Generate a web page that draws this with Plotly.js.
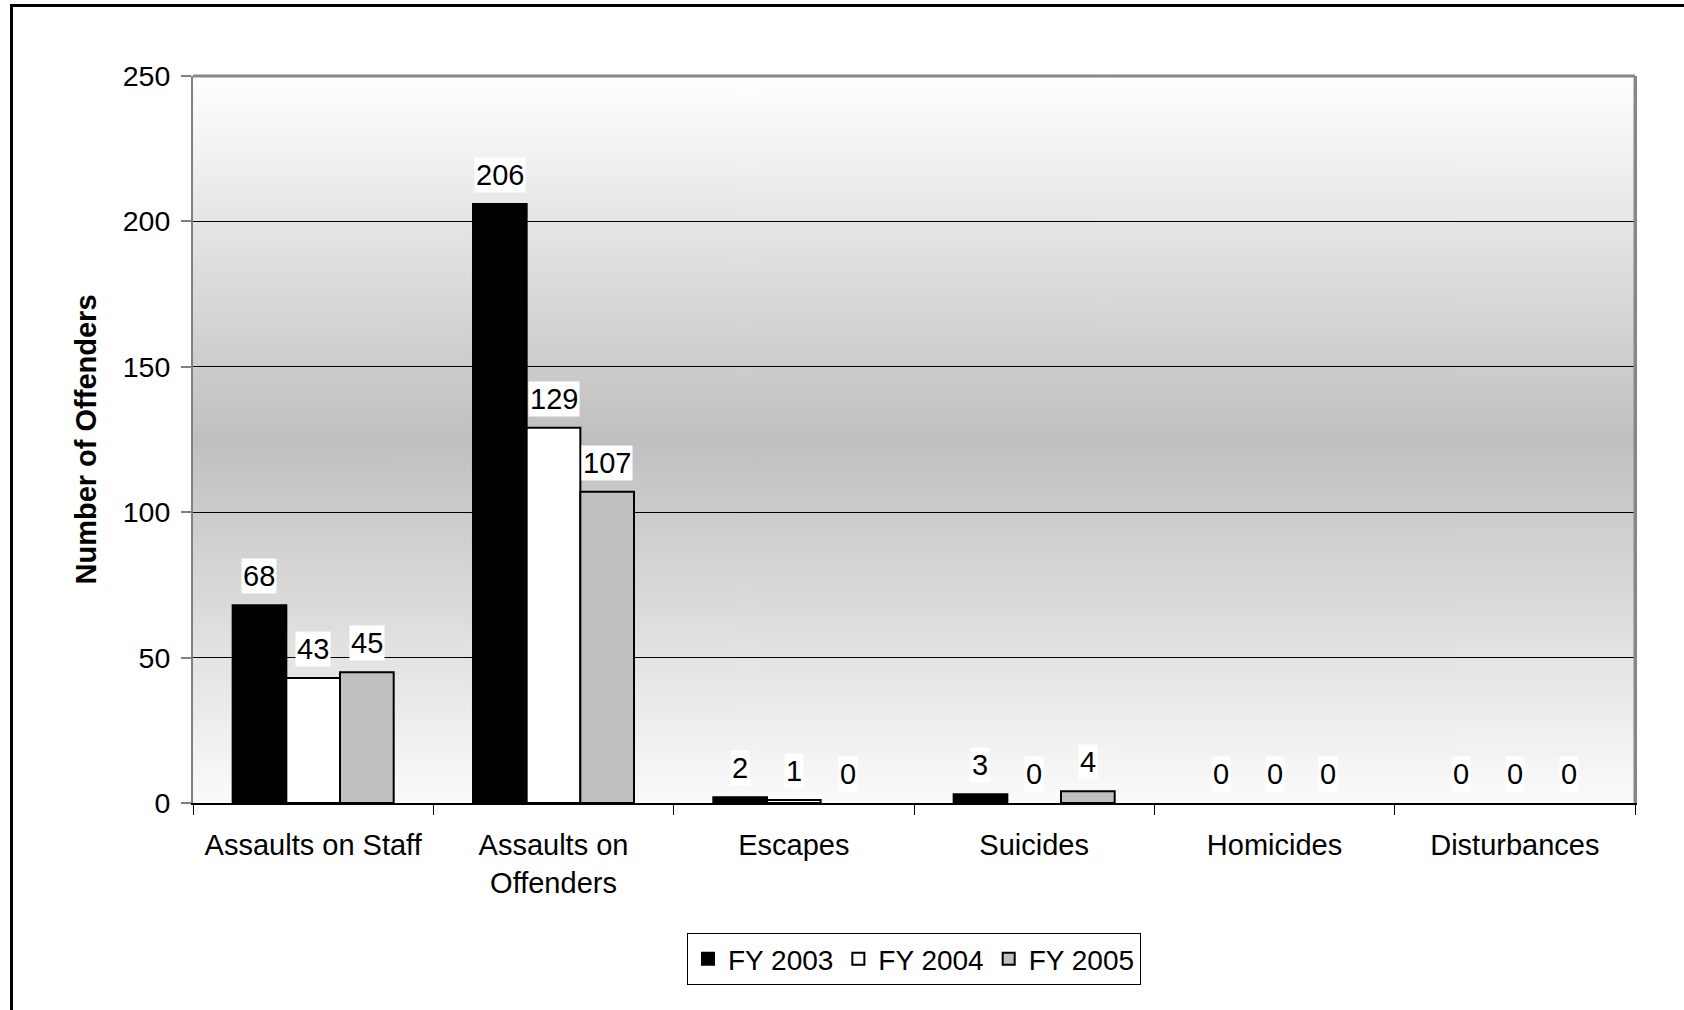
<!DOCTYPE html>
<html>
<head>
<meta charset="utf-8">
<script src="https://cdn.plot.ly/plotly-3.0.1.min.js"></script>
<style>
  html, body { margin: 0; padding: 0; background: #ffffff; }
  #wrap { position: relative; width: 1684px; height: 1010px; overflow: hidden; }
  #chart { position: absolute; left: 0; top: 0; width: 1684px; height: 1010px; }
  #frame { position: absolute; left: 10px; top: 4px; width: 1700px; height: 1100px;
           border-left: 3px solid #000; border-top: 3px solid #000; pointer-events: none; }
</style>
</head>
<body>
<div id="wrap">
  <div id="chart"></div>
  <div id="frame"></div>
</div>
<script>
// ---- data ----
const categories = ["Assaults on Staff", "Assaults on<br>Offenders", "Escapes", "Suicides", "Homicides", "Disturbances"];
const seriesNames = ["FY 2003", "FY 2004", "FY 2005"];
const fy2003 = [68, 206, 2, 3, 0, 0];
const fy2004 = [43, 129, 1, 0, 0, 0];
const fy2005 = [45, 107, 0, 4, 0, 0];
const yTicks = [0, 50, 100, 150, 200, 250];

// ---- styles ----
const seriesValues = [fy2003, fy2004, fy2005];
const seriesColors = ["#000000", "#ffffff", "#c0c0c0"];
const FONT = "Arial, 'Liberation Sans', sans-serif";
const FS = 29;
const W = 1684, H = 1010;
const margin = {l: 193, r: 49, t: 76, b: 207};
const bargap = 0.33;

const traces = seriesValues.map((vals, i) => ({
  type: "bar",
  name: seriesNames[i],
  x: categories,
  y: vals,
  marker: {color: seriesColors[i], line: {color: "#000000", width: vals.map(v => v === 0 ? 0 : 2)}},
  hoverinfo: "skip"
}));

// background gradient image
const cv = document.createElement("canvas");
cv.width = 4; cv.height = 400;
const ctx = cv.getContext("2d");
const g = ctx.createLinearGradient(0, 0, 0, 400);
g.addColorStop(0, "#ffffff");
g.addColorStop(0.5, "#c0c0c0");
g.addColorStop(1, "#fbfbfb");
ctx.fillStyle = g;
ctx.fillRect(0, 0, 4, 400);
const bgURL = cv.toDataURL("image/png");

// data labels (white boxes)
const plotW = W - margin.l - margin.r;
const barW = (plotW / categories.length) * (1 - bargap) / seriesValues.length;
const annotations = [];
seriesValues.forEach((vals, i) => {
  vals.forEach((v, j) => {
    annotations.push({
      x: categories[j], y: v, xref: "x", yref: "y",
      text: String(v), showarrow: false,
      xshift: (i - (seriesValues.length - 1) / 2) * barW,
      yshift: 29, yanchor: "middle", xanchor: "center",
      bgcolor: "#ffffff", borderpad: 1,
      font: {family: FONT, size: FS, color: "#000000"}
    });
  });
});

const layout = {
  width: W, height: H,
  margin: margin,
  paper_bgcolor: "rgba(0,0,0,0)",
  plot_bgcolor: "rgba(0,0,0,0)",
  barmode: "group",
  bargap: bargap,
  bargroupgap: 0,
  font: {family: FONT, size: FS, color: "#000000"},
  showlegend: true,
  legend: {
    orientation: "h", x: 0.5, xanchor: "center", y: -0.179, yanchor: "top",
    bordercolor: "#000000", borderwidth: 1, bgcolor: "#ffffff",
    font: {family: FONT, size: 28, color: "#000000"},
    itemclick: false, itemdoubleclick: false
  },
  xaxis: {
    type: "category",
    showgrid: false, zeroline: false,
    showline: true, linecolor: "#000000", linewidth: 2,
    ticks: "outside", tickson: "boundaries", ticklen: 10, tickcolor: "#000000", tickwidth: 1,
    ticklabelstandoff: 15,
    tickfont: {family: FONT, size: FS, color: "#000000"},
    fixedrange: true
  },
  yaxis: {
    range: [0, 250], tickvals: yTicks, ticktext: yTicks.map(String),
    showgrid: true, gridcolor: "#000000", gridwidth: 1,
    zeroline: false,
    showline: true, linecolor: "#7f7f7f", linewidth: 2, mirror: true,
    ticks: "outside", ticklen: 10, tickcolor: "#7f7f7f", tickwidth: 2,
    ticklabelstandoff: 5,
    tickfont: {family: FONT, size: 28.5, color: "#000000"},
    title: {text: "<b>Number of Offenders</b>", font: {family: FONT, size: FS, color: "#000000"}, standoff: 18},
    fixedrange: true
  },
  shapes: [
    {type: "line", xref: "paper", yref: "paper", x0: 0, x1: 1, y0: 1, y1: 1,
     line: {color: "#888888", width: 3}},
    {type: "line", xref: "paper", yref: "paper", x0: 1, x1: 1, y0: 0, y1: 1,
     line: {color: "#888888", width: 3}}
  ],
  images: [{
    source: bgURL, xref: "paper", yref: "paper", x: 0, y: 1, sizex: 1, sizey: 1,
    sizing: "stretch", xanchor: "left", yanchor: "top", layer: "below"
  }],
  annotations: annotations
};

Plotly.newPlot("chart", traces, layout, {displayModeBar: false, staticPlot: true});
</script>
</body>
</html>
